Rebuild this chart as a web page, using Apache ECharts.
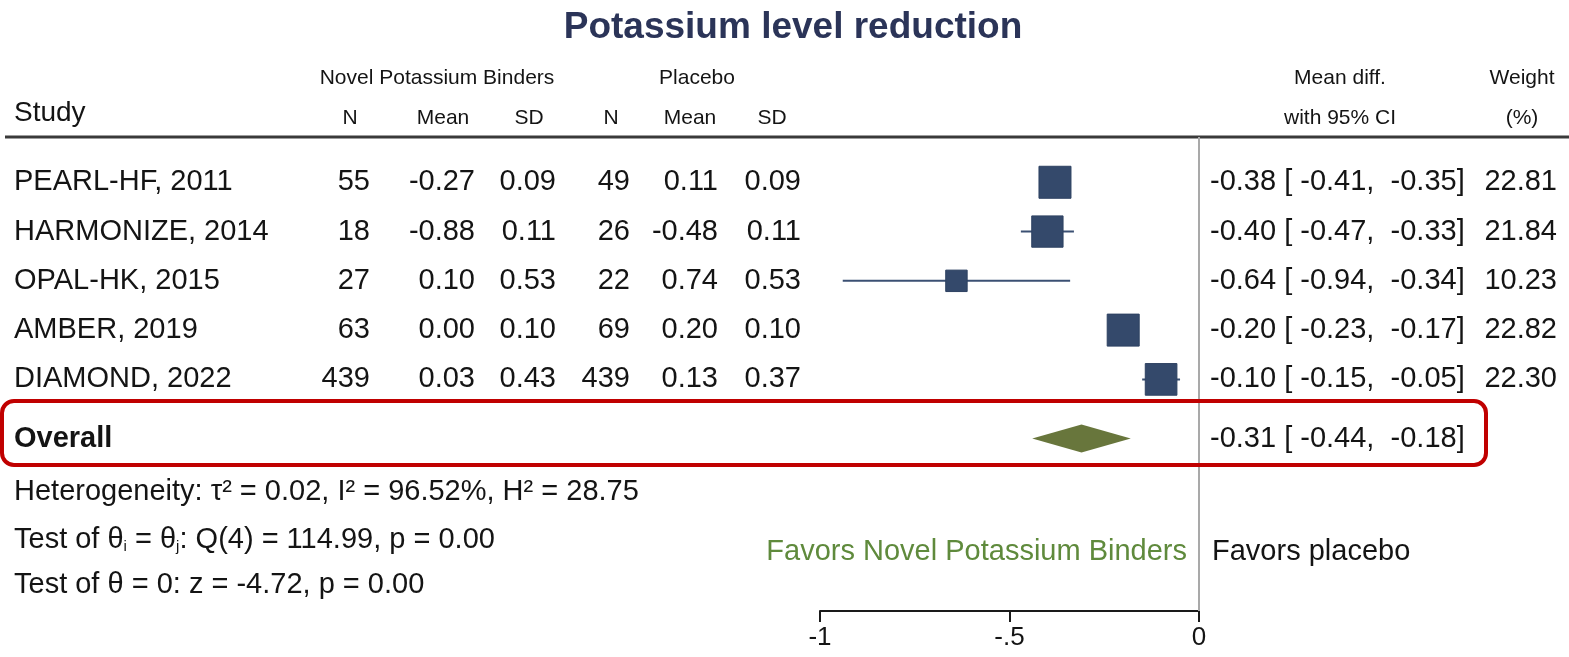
<!DOCTYPE html>
<html>
<head>
<meta charset="utf-8">
<title>Potassium level reduction</title>
<script src="https://cdn.jsdelivr.net/npm/echarts@6/dist/echarts.min.js"></script>
<style>
  html, body { margin: 0; padding: 0; background: #ffffff; }
  #chart { width: 1569px; height: 657px; }
</style>
</head>
<body>
<div id="chart"></div>
<script>
// ---- Study data ----
const studies   = ['PEARL-HF, 2011', 'HARMONIZE, 2014', 'OPAL-HK, 2015', 'AMBER, 2019', 'DIAMOND, 2022'];
const trtN      = [55, 18, 27, 63, 439];
const trtMean   = [-0.27, -0.88, 0.10, 0.00, 0.03];
const trtSD     = [0.09, 0.11, 0.53, 0.10, 0.43];
const plcN      = [49, 26, 22, 69, 439];
const plcMean   = [0.11, -0.48, 0.74, 0.20, 0.13];
const plcSD     = [0.09, 0.11, 0.53, 0.10, 0.37];
const meanDiff  = [-0.38, -0.40, -0.64, -0.20, -0.10];
const ciLow     = [-0.41, -0.47, -0.94, -0.23, -0.15];
const ciHigh    = [-0.35, -0.33, -0.34, -0.17, -0.05];
const weightPct = [22.81, 21.84, 10.23, 22.82, 22.30];

// Pooled random-effects estimate
const overallEst  = -0.31;
const overallLow  = -0.44;
const overallHigh = -0.18;

// Axis ticks
const xTicks = [-1, -0.5, 0];

// Summary statistics
const tau2 = '0.02', i2 = '96.52%', h2 = '28.75';
const qDf = 4, qStat = '114.99', qP = '0.00';
const zStat = '-4.72', zP = '0.00';

// ---- Layout ----
const FONT = "'Liberation Sans', Arial, Helvetica, sans-serif";
const TEXT = '#141414';
const ROW_SIZE = 29;
const rowPos = studies.map((_, i) => i + 1);
const overallPos = 6.2;
const COL = { study: 14, n1: 370, mean1: 475, sd1: 556, n2: 630, mean2: 718, sd2: 801, ci: 1210, wt: 1557 };

const fmt2 = v => (Math.abs(v) < 1e-9 ? 0 : v).toFixed(2);
const ciText = (m, lo, hi) => `${fmt2(m)} [ ${fmt2(lo)},  ${fmt2(hi)}]`;

function label(text, x, y, size, align, extra) {
  return {
    type: 'text',
    style: Object.assign({
      text, x, y,
      font: `${size}px ${FONT}`,
      fill: TEXT,
      align, textAlign: align,
      verticalAlign: 'middle', textVerticalAlign: 'middle'
    }, extra || {})
  };
}

const chart = echarts.init(document.getElementById('chart'), null, { renderer: 'canvas' });

const headerSize = 21;
const statRich = {
  sub: { fontSize: 15, fontFamily: FONT, fill: TEXT, color: TEXT, verticalAlign: 'bottom', lineHeight: 15 }
};

const graphics = [
  // title
  label('Potassium level reduction', 793, 28, 37, 'center', { font: `bold 37px ${FONT}`, fill: '#2b3458' }),
  // group headers
  label('Novel Potassium Binders', 437, 78, headerSize, 'center'),
  label('Placebo', 697, 78, headerSize, 'center'),
  label('Mean diff.', 1340, 78, headerSize, 'center'),
  label('Weight', 1522, 78, headerSize, 'center'),
  label('Study', 14, 113, 28, 'left'),
  label('N', 350, 118, headerSize, 'center'),
  label('Mean', 443, 118, headerSize, 'center'),
  label('SD', 529, 118, headerSize, 'center'),
  label('N', 611, 118, headerSize, 'center'),
  label('Mean', 690, 118, headerSize, 'center'),
  label('SD', 772, 118, headerSize, 'center'),
  label('with 95% CI', 1340, 118, headerSize, 'center'),
  label('(%)', 1522, 118, headerSize, 'center'),
  // rule under the header block
  { type: 'line', shape: { x1: 5, y1: 137, x2: 1569, y2: 137 }, style: { stroke: '#3a3a3a', lineWidth: 3 } },
  // highlight frame around the pooled estimate
  { type: 'rect', shape: { x: 2, y: 401, width: 1484, height: 64, r: 12 }, style: { fill: 'none', stroke: '#c00000', lineWidth: 4 }, z: 10 },
  // heterogeneity and tests
  label(`Heterogeneity: \u03c4\u00b2 = ${tau2}, I\u00b2 = ${i2}, H\u00b2 = ${h2}`, 14, 492, ROW_SIZE, 'left'),
  label(`Test of \u03b8{sub|i} = \u03b8{sub|j}: Q(${qDf}) = ${qStat}, p = ${qP}`, 14, 540, ROW_SIZE, 'left', { rich: statRich }),
  label(`Test of \u03b8 = 0: z = ${zStat}, p = ${zP}`, 14, 585, ROW_SIZE, 'left'),
  // direction labels
  label('Favors Novel Potassium Binders', 1187, 552, ROW_SIZE, 'right', { fill: '#5f8a3c' }),
  label('Favors placebo', 1212, 552, ROW_SIZE, 'left')
];

// per-study table text and markers
const tableData = studies.map((_, i) => [0, rowPos[i], i]);
const markerData = studies.map((_, i) => [meanDiff[i], rowPos[i], ciLow[i], ciHigh[i], weightPct[i]]);

const option = {
  animation: false,
  backgroundColor: '#ffffff',
  grid: { left: 820, right: 370, top: 133, bottom: 46 },
  xAxis: {
    type: 'value', position: 'bottom', min: -1, max: 0, interval: 0.5,
    axisLine: { show: true, onZero: false, lineStyle: { color: '#1a1a1a', width: 2 } },
    axisTick: { show: true, length: 11, lineStyle: { color: '#1a1a1a', width: 2 } },
    axisLabel: {
      fontSize: 26, fontFamily: FONT, color: TEXT, margin: 14,
      formatter: v => (xTicks.includes(v) ? String(v).replace(/^(-?)0\./, '$1.') : '')
    },
    splitLine: { show: false }
  },
  yAxis: { type: 'value', inverse: true, min: 0, max: 9.7, show: false },
  graphic: graphics,
  series: [
    {
      type: 'custom', name: 'table', data: tableData, encode: { x: 0, y: 1 }, clip: false, silent: true,
      renderItem: (params, api) => {
        const i = api.value(2);
        const y = api.coord([0, api.value(1)])[1];
        return {
          type: 'group',
          children: [
            label(studies[i], COL.study, y, ROW_SIZE, 'left'),
            label(String(trtN[i]), COL.n1, y, ROW_SIZE, 'right'),
            label(fmt2(trtMean[i]), COL.mean1, y, ROW_SIZE, 'right'),
            label(fmt2(trtSD[i]), COL.sd1, y, ROW_SIZE, 'right'),
            label(String(plcN[i]), COL.n2, y, ROW_SIZE, 'right'),
            label(fmt2(plcMean[i]), COL.mean2, y, ROW_SIZE, 'right'),
            label(fmt2(plcSD[i]), COL.sd2, y, ROW_SIZE, 'right'),
            label(ciText(meanDiff[i], ciLow[i], ciHigh[i]), COL.ci, y, ROW_SIZE, 'left'),
            label(fmt2(weightPct[i]), COL.wt, y, ROW_SIZE, 'right')
          ]
        };
      }
    },
    {
      type: 'custom', name: 'studies', data: markerData, encode: { x: 0, y: 1 }, clip: false, silent: true,
      renderItem: (params, api) => {
        const yv = api.value(1);
        const c = api.coord([api.value(0), yv]);
        const lo = api.coord([api.value(2), yv]);
        const hi = api.coord([api.value(3), yv]);
        const s = 6.7 * Math.sqrt(api.value(4));
        return {
          type: 'group',
          children: [
            { type: 'line', shape: { x1: lo[0], y1: c[1], x2: hi[0], y2: c[1] }, style: { stroke: '#3b5073', lineWidth: 2 } },
            { type: 'rect', shape: { x: c[0] - s / 2, y: c[1] - s / 2, width: s, height: s }, style: { fill: '#34496b', stroke: '#2e4262', lineWidth: 1 } }
          ]
        };
      },
      markLine: {
        silent: true, symbol: 'none', label: { show: false }, animation: false,
        lineStyle: { color: '#a9a9a9', width: 2, type: 'solid' },
        data: [[{ coord: [0, 0.08] }, { coord: [0, 9.7] }]]
      }
    },
    {
      type: 'custom', name: 'overall', data: [[overallEst, overallPos, overallLow, overallHigh]], encode: { x: 0, y: 1 }, clip: false, silent: true,
      renderItem: (params, api) => {
        const yv = api.value(1);
        const c = api.coord([api.value(0), yv]);
        const lo = api.coord([api.value(2), yv]);
        const hi = api.coord([api.value(3), yv]);
        const h = 14;
        return {
          type: 'group',
          children: [
            { type: 'polygon', shape: { points: [[lo[0], c[1]], [c[0], c[1] - h], [hi[0], c[1]], [c[0], c[1] + h]] }, style: { fill: '#68763c' } },
            label('Overall', COL.study, c[1], ROW_SIZE, 'left', { font: `bold ${ROW_SIZE}px ${FONT}` }),
            label(ciText(api.value(0), api.value(2), api.value(3)), COL.ci, c[1], ROW_SIZE, 'left')
          ]
        };
      }
    }
  ]
};

chart.setOption(option);
</script>
</body>
</html>
